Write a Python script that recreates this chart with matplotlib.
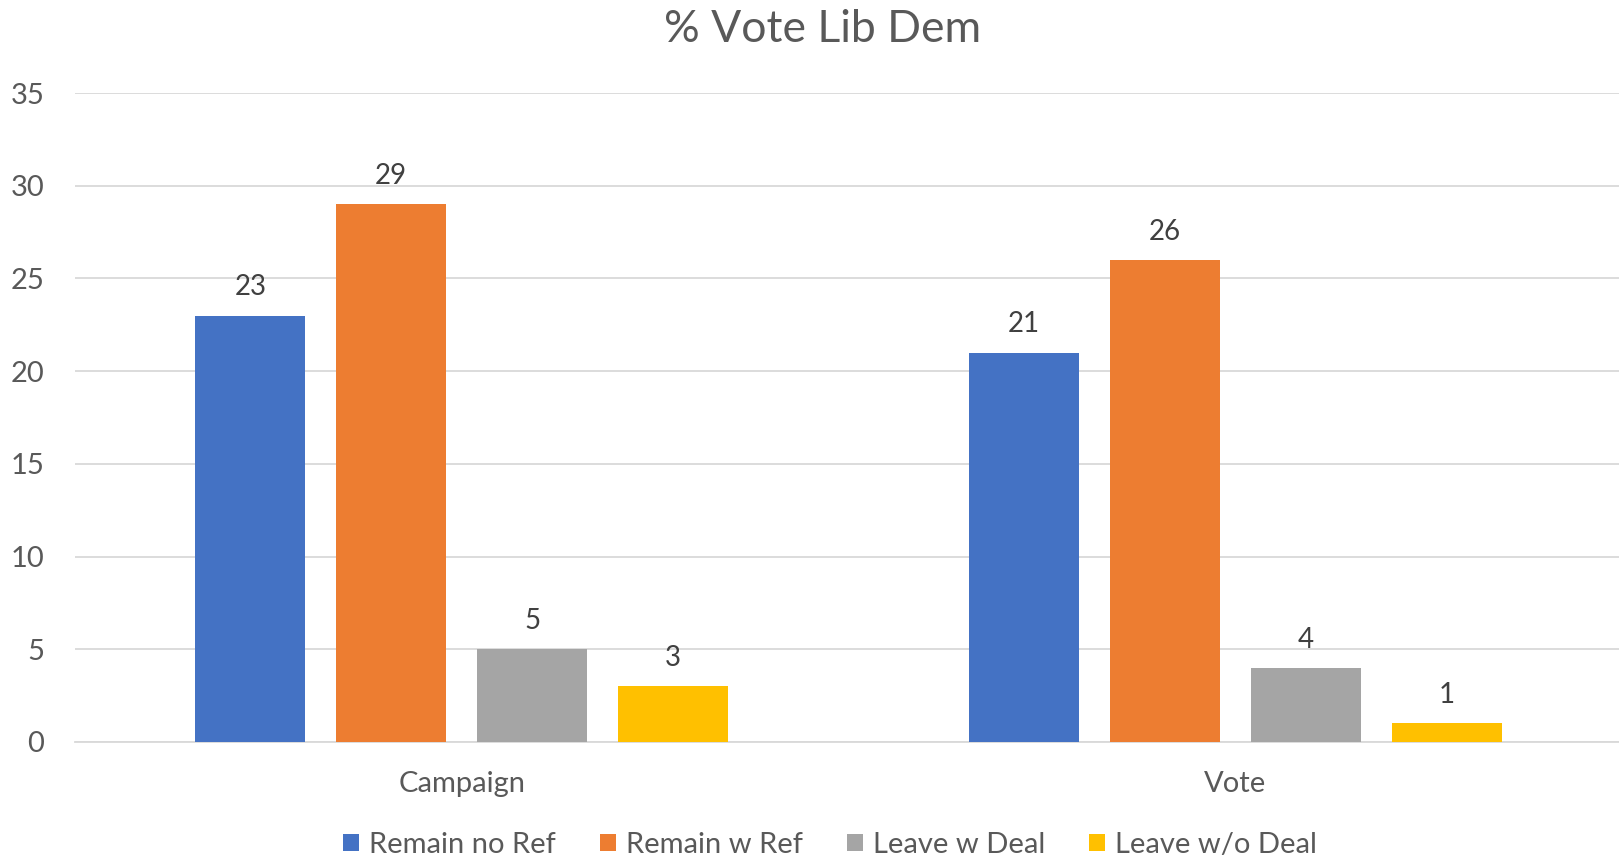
import matplotlib
matplotlib.use("Agg")
import matplotlib.pyplot as plt
import numpy as np
from matplotlib.patches import Patch

categories = ["Campaign", "Vote"]
series_names = ["Remain no Ref", "Remain w Ref", "Leave w Deal", "Leave w/o Deal"]
remain_no_ref = [23, 21]
remain_w_ref = [29, 26]
leave_w_deal = [5, 4]
leave_wo_deal = [3, 1]
series_values = [remain_no_ref, remain_w_ref, leave_w_deal, leave_wo_deal]
colors = ["#4472C4", "#ED7D31", "#A5A5A5", "#FFC000"]
yticks = [0, 5, 10, 15, 20, 25, 30, 35]

plt.rcParams['font.family'] = ['Lato', 'DejaVu Sans']

fig = plt.figure(figsize=(16.19, 8.60), dpi=100)
ax = fig.add_axes([75/1619, 1-742/860, (1622-75)/1619, (742-93)/860])

x = np.arange(len(categories))
width = 0.1425
step = 0.1822
for i, (name, vals, c) in enumerate(zip(series_names, series_values, colors)):
    pos = x + (i - 1.5) * step
    bars = ax.bar(pos, vals, width=width, color=c, label=name, zorder=3)
    for b, v in zip(bars, vals):
        ax.annotate(str(v), (b.get_x() + b.get_width()/2, v), xytext=(0, 11),
                    textcoords="offset points", ha="center", va="bottom",
                    fontsize=20, color="#404040")

ax.set_xlim(-0.5, 1.5)
ax.set_ylim(0, 35)
ax.set_yticks(yticks)
ax.set_yticklabels([str(t) for t in yticks], fontsize=21, color="#595959")
ax.set_xticks(x)
ax.set_xticklabels(categories, fontsize=21, color="#595959")
ax.tick_params(axis="both", length=0)
ax.tick_params(axis="y", pad=22)
ax.tick_params(axis="x", pad=21)
ax.grid(axis="y", color="#D9D9D9", linewidth=1.3, zorder=0)
for s in ["top", "right", "left"]:
    ax.spines[s].set_visible(False)
ax.spines["bottom"].set_color("#D9D9D9")
ax.spines["bottom"].set_linewidth(1.3)

fig.text(0.508, 1 - 29/860, "% Vote Lib Dem", ha="center", va="center",
         fontsize=32, color="#595959")

handles = [Patch(facecolor=c, edgecolor="none") for c in colors]
leg = fig.legend(handles, series_names, loc="center", bbox_to_anchor=(830/1619, 1-845/860),
                 ncol=4, frameon=False, fontsize=21, handlelength=0.55, handleheight=0.55,
                 columnspacing=1.5, handletextpad=0.35)
for t in leg.get_texts():
    t.set_color("#595959")

fig.savefig("out.png", dpi=100)
